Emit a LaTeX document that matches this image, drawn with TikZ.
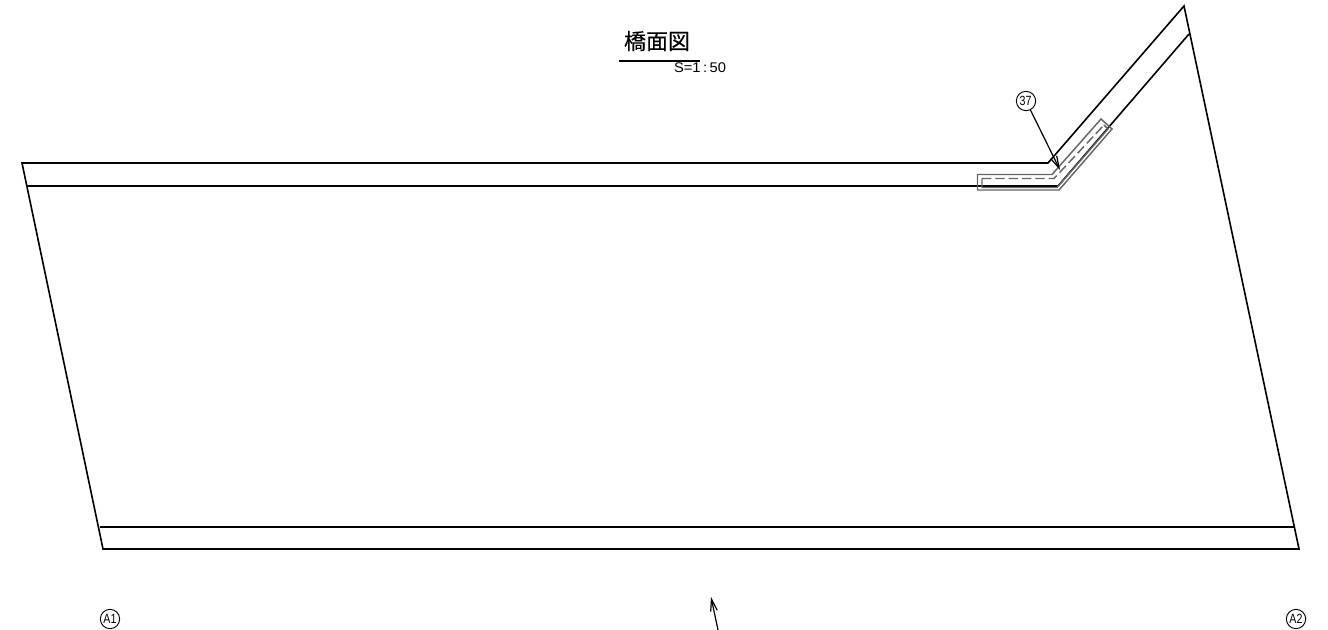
\documentclass[tikz,border=0pt]{standalone}
\usepackage{fontspec}
\usetikzlibrary{arrows.meta}
\setsansfont{Liberation Sans}
\newfontfamily\cjk{Noto Sans CJK JP}
\begin{document}
\begin{tikzpicture}[x=0.75pt,y=-0.75pt,
  deck/.style={line width=1.2pt,line join=miter},
  pad/.style={draw=black!60,line width=1.1pt},
  tag/.style={draw,circle,line width=.7pt,inner sep=0pt,minimum size=14.5pt,font=\sffamily\fontsize{10}{10}\selectfont},
  lead/.style={line width=.9pt,-{Straight Barb[length=9pt,width=5pt]}}]
\useasboundingbox (0,0) rectangle (1328,630);
\coordinate (tl) at (22,163);
\coordinate (tk) at (1048,163);
\coordinate (tp) at (1184,6);
\coordinate (br) at (1299,549);
\coordinate (bl) at (103,549);
\coordinate (il) at (27,186);
\coordinate (ik) at (1058,186);
\coordinate (ip) at (1189,34);
\coordinate (jl) at (100,527);
\coordinate (jr) at (1294,527);
\draw [deck] (tl)-- (tk)-- (tp)-- (br)-- (bl)-- cycle;
\draw [deck] (il)-- (ik)-- (ip);
\draw [deck] (jl)-- (jr);
% pad
\draw [pad] (977.5,174.5)-- (1052,174.5)-- (1101,119)-- (1112,129)-- (1059,190)-- (977.5,190)-- cycle;
\draw [pad] (982,178.5)-- (982,187.5)-- (1057,187.5)-- (1108,129)-- (1104,125);
\draw [pad,dash pattern=on 7pt off 3pt] (982,178.5)-- (1054,178.5)-- (1104,125);
% labels
\node (title) at (657,41) [font=\cjk\fontsize{16.5}{17}\selectfont\addfontfeatures{FakeBold=0.3}] {橋面図};
\draw [line width=1.2pt] (619,61)-- (700,61);
\node (scale) at (700,68) [font=\sffamily\fontsize{10.5}{10}\selectfont,xscale=1.05] {S=1\,:\,50};
\node [tag] (n37) at (1026,101) {\hspace{-.5pt}\scalebox{.8}[1]{37}};
\coordinate (n37end) at (1060,170);
\draw [lead] (n37)-- (n37end);
\node [tag] (a1) at (110,619) {\scalebox{.8}[1]{A1}};
\node [tag] (a2) at (1296,619) {\scalebox{.8}[1]{A2}};
\coordinate (up0) at (718,630);
\coordinate (up1) at (711,597);
\draw [lead] (up0)-- (up1);
\end{tikzpicture}
\end{document}
